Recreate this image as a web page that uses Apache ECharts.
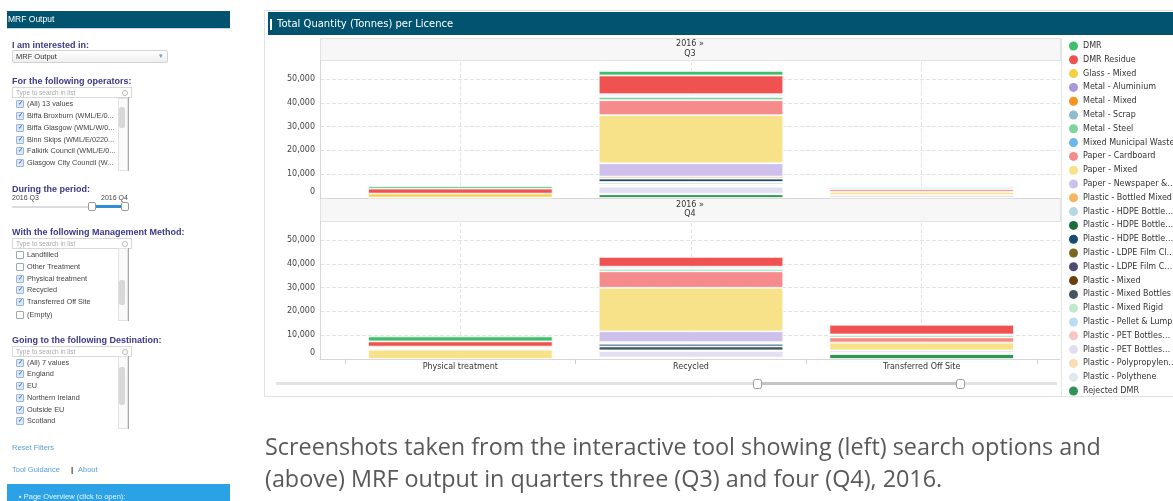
<!DOCTYPE html>
<html>
<head>
<meta charset="utf-8">
<title>MRF Output</title>
<script src="https://cdn.jsdelivr.net/npm/echarts@6/dist/echarts.min.js"></script>
<style>
  html, body { margin: 0; padding: 0; background: #fff; }
  body { width: 1173px; height: 501px; position: relative; overflow: hidden; font-family: "Liberation Sans", Arial, sans-serif; }
  #chart { position: absolute; left: 0; top: 0; width: 1173px; height: 501px; }
  .side { position: absolute; left: 0; top: 0; width: 240px; height: 501px; z-index: 2; }
  .side div, .side span { position: absolute; white-space: nowrap; }
  .hd { left: 12px; font: bold 9px/10px "Liberation Sans", Arial, sans-serif; color: #3a3a8a; }
  .search { left: 12px; width: 115px; height: 9px; border: 1px solid #d8d8d8; font: 6.5px/9px "Liberation Sans", Arial, sans-serif; color: #aaa; padding-left: 3px; }
  .search:after { content: ""; position: absolute; right: 3px; top: 2px; width: 4px; height: 4px; border: 1px solid #bbb; border-radius: 50%; }
  .item { left: 16px; height: 9px; font: 7.3px/9px "Liberation Sans", Arial, sans-serif; color: #444; }
  .item b { position: absolute; left: 0; top: 1px; width: 6px; height: 6px; border: 1px solid #9aa; background: #fff; border-radius: 1px; }
  .item b.on { border-color: #9db7d2; background: #dbe7f4; }
  .item b.on:after { content: "✓"; position: absolute; left: 0.5px; top: -2px; font-size: 6px; color: #4b7fb8; }
  .item span { left: 11px; top: 0; }
  .scroll { left: 118px; width: 8px; border: 1px solid #e2e2e2; background: #fafafa; }
  .thumb { left: 119px; width: 6px; background: #d8d8d8; border-radius: 2px; }
  .edge { left: 128px; width: 1px; background: #a9a9a9; }
  .link { left: 12px; font: 7.5px/9px "Liberation Sans", Arial, sans-serif; color: #5aa0d8; }
  .cap { position: absolute; left: 265px; font-family: "Open Sans", "Liberation Sans", sans-serif; font-size: 20px; color: #595959; white-space: nowrap; z-index: 2; }
</style>
</head>
<body>
<div id="chart"></div>

<div class="side">
  <div style="left:7px;top:11px;width:223px;height:17px;background:#02536f;"></div>
  <div style="left:7px;top:28px;width:223px;height:1px;background:#c6d8df;"></div>
  <div style="left:8px;top:11px;font:8.5px/17px 'Liberation Sans',Arial,sans-serif;color:#fff;">MRF Output</div>

  <div class="hd" style="top:40px;">I am interested in:</div>
  <div style="left:12px;top:50px;width:154px;height:11px;border:1px solid #d2d2d2;border-radius:2px;background:linear-gradient(#fff,#eee);"></div>
  <div style="left:16px;top:50px;font:7.5px/13px 'Liberation Sans',Arial,sans-serif;color:#333;">MRF Output</div>
  <div style="left:159px;top:50px;font:7px/13px 'DejaVu Sans',sans-serif;color:#6d9fc8;">▾</div>

  <div class="hd" style="top:76px;">For the following operators:</div>
  <div class="search" style="top:87px;">Type to search in list</div>
  <div class="item" style="top:99px;"><b class="on"></b><span>(All) 13 values</span></div>
  <div class="item" style="top:111px;"><b class="on"></b><span>Biffa Broxburn (WML/E/0...</span></div>
  <div class="item" style="top:123px;"><b class="on"></b><span>Biffa Glasgow (WML/W/0...</span></div>
  <div class="item" style="top:135px;"><b class="on"></b><span>Binn Skips (WML/E/0220...</span></div>
  <div class="item" style="top:146px;"><b class="on"></b><span>Falkirk Council (WML/E/0...</span></div>
  <div class="item" style="top:158px;"><b class="on"></b><span>Glasgow City Council (W...</span></div>
  <div class="scroll" style="top:98px;height:71px;"></div>
  <div class="thumb" style="top:107px;height:21px;"></div>
  <div class="edge" style="top:97px;height:74px;"></div>

  <div class="hd" style="top:184px;">During the period:</div>
  <div style="left:12px;top:193px;font:7px/9px 'Liberation Sans',Arial,sans-serif;color:#444;">2016 Q3</div>
  <div style="left:101px;top:193px;font:7px/9px 'Liberation Sans',Arial,sans-serif;color:#444;">2016 Q4</div>
  <div style="left:12px;top:206px;width:116px;height:2px;background:#dcdcdc;"></div>
  <div style="left:93px;top:205px;width:30px;height:3px;background:#2e8fd8;"></div>
  <div style="left:88px;top:202px;width:6px;height:7px;border:1px solid #9a9a9a;border-radius:2px;background:#fff;"></div>
  <div style="left:121px;top:202px;width:6px;height:7px;border:1px solid #9a9a9a;border-radius:2px;background:#fff;"></div>

  <div class="hd" style="top:227px;">With the following Management Method:</div>
  <div class="search" style="top:238px;">Type to search in list</div>
  <div class="item" style="top:250px;"><b></b><span>Landfilled</span></div>
  <div class="item" style="top:262px;"><b></b><span>Other Treatment</span></div>
  <div class="item" style="top:274px;"><b class="on"></b><span>Physical treatment</span></div>
  <div class="item" style="top:285px;"><b class="on"></b><span>Recycled</span></div>
  <div class="item" style="top:297px;"><b class="on"></b><span>Transferred Off Site</span></div>
  <div class="item" style="top:310px;"><b></b><span>(Empty)</span></div>
  <div class="scroll" style="top:248px;height:71px;"></div>
  <div class="thumb" style="top:280px;height:25px;"></div>
  <div class="edge" style="top:248px;height:73px;"></div>

  <div class="hd" style="top:335px;">Going to the following Destination:</div>
  <div class="search" style="top:346px;">Type to search in list</div>
  <div class="item" style="top:358px;"><b class="on"></b><span>(All) 7 values</span></div>
  <div class="item" style="top:369px;"><b class="on"></b><span>England</span></div>
  <div class="item" style="top:381px;"><b class="on"></b><span>EU</span></div>
  <div class="item" style="top:393px;"><b class="on"></b><span>Northern Ireland</span></div>
  <div class="item" style="top:405px;"><b class="on"></b><span>Outside EU</span></div>
  <div class="item" style="top:416px;"><b class="on"></b><span>Scotland</span></div>
  <div class="scroll" style="top:356px;height:71px;"></div>
  <div class="thumb" style="top:367px;height:38px;"></div>
  <div class="edge" style="top:356px;height:73px;"></div>

  <div class="link" style="top:443px;">Reset Filters</div>
  <div class="link" style="top:465px;">Tool Guidance</div>
  <div style="left:71px;top:465px;font:bold 8px/9px 'Liberation Sans',Arial,sans-serif;color:#333;">|</div>
  <div class="link" style="left:78px;top:465px;">About</div>

  <div style="left:7px;top:484px;width:223px;height:20px;background:#2ba2e6;"></div>
  <div style="left:19px;top:492px;font:7.5px/10px 'Liberation Sans',Arial,sans-serif;color:#e8f5ff;">▪ Page Overview (click to open):</div>
</div>

<div class="cap" id="cap1" style="top:432px;line-height:28px;">Screenshots taken from the interactive tool showing (left) search options and</div>
<div class="cap" id="cap2" style="top:464px;line-height:28px;">(above) MRF output in quarters three (Q3) and four (Q4), 2016.</div>

<script>
// 材料类别（图例顺序，从上到下）
const materials = [
  'DMR', 'DMR Residue', 'Glass - Mixed', 'Metal - Aluminium', 'Metal - Mixed',
  'Metal - Scrap', 'Metal - Steel', 'Mixed Municipal Waste', 'Paper - Cardboard',
  'Paper - Mixed', 'Paper - Newspaper & Magazines', 'Plastic - Bottled Mixed',
  'Plastic - HDPE Bottles Clear', 'Plastic - HDPE Bottles Coloured', 'Plastic - HDPE Bottles Mixed',
  'Plastic - LDPE Film Clear', 'Plastic - LDPE Film Coloured', 'Plastic - Mixed',
  'Plastic - Mixed Bottles', 'Plastic - Mixed Rigid', 'Plastic - Pellet & Lump',
  'Plastic - PET Bottles Clear', 'Plastic - PET Bottles Coloured', 'Plastic - Polypropylene',
  'Plastic - Polythene', 'Rejected DMR'
]

// 图例中显示的（截断）文字
const legendLabels = [
  'DMR', 'DMR Residue', 'Glass - Mixed', 'Metal - Aluminium', 'Metal - Mixed',
  'Metal - Scrap', 'Metal - Steel', 'Mixed Municipal Waste', 'Paper - Cardboard',
  'Paper - Mixed', 'Paper - Newspaper &…', 'Plastic - Bottled Mixed',
  'Plastic - HDPE Bottle…', 'Plastic - HDPE Bottle…', 'Plastic - HDPE Bottle…',
  'Plastic - LDPE Film Cl…', 'Plastic - LDPE Film C…', 'Plastic - Mixed',
  'Plastic - Mixed Bottles', 'Plastic - Mixed Rigid', 'Plastic - Pellet & Lump',
  'Plastic - PET Bottles…', 'Plastic - PET Bottles…', 'Plastic - Polypropylen…',
  'Plastic - Polythene', 'Rejected DMR'
]

const methods = ['Physical treatment', 'Recycled', 'Transferred Off Site']
const periods = ['2016 »\nQ3', '2016 »\nQ4']

// 吨数，每个数组按 materials 顺序
//                 DMR  Res   Gls  Alu Mix Scr  Stl MMW Card  PMix  News Btl H1 H2 H3  LCl LC PMx MBt Rig Pel PET1 PET2 PP  PTh Rej
const q3Physical = [1000, 2100, 1650, 0, 0, 0, 200, 0, 0, 0, 0, 0, 0, 0, 0, 0, 0, 0, 0, 0, 0, 0, 0, 0, 0, 0]
const q3Recycled = [1900, 7900, 0, 700, 0, 400, 1400, 0, 6300, 20200, 5600, 850, 0, 0, 1400, 0, 300, 0, 600, 300, 500, 300, 2950, 0, 250, 1550]
const q3Transferred = [0, 0, 0, 500, 0, 0, 700, 0, 1100, 1400, 900, 0, 0, 0, 0, 0, 0, 0, 0, 0, 0, 0, 300, 0, 0, 0]
const q4Physical = [2100, 2200, 500, 0, 0, 0, 300, 0, 500, 3900, 0, 0, 0, 0, 0, 0, 0, 0, 0, 0, 0, 0, 0, 0, 0, 0]
const q4Recycled = [0, 4100, 0, 600, 0, 350, 1000, 0, 6900, 18300, 4600, 650, 0, 0, 1100, 0, 0, 0, 1700, 0, 200, 0, 2800, 600, 0, 0]
const q4Transferred = [0, 4100, 0, 0, 0, 200, 1000, 0, 2200, 3300, 800, 0, 0, 0, 0, 0, 0, 0, 0, 0, 0, 0, 700, 0, 0, 2100]

const colors = [
  '#3fbf6b', '#f05252', '#f5d142', '#a996d8', '#f7931e',
  '#8fbccf', '#80d39b', '#6bb8ee', '#f58b8a', '#f7e289',
  '#cdc0ea', '#f7b462', '#b5d8e4', '#1f6b3c', '#144d6f',
  '#7a6826', '#4e4b6f', '#6b3f0e', '#44575f', '#bfe8cc',
  '#badcf6', '#f8c5c6', '#e4def3', '#fcdcb2', '#dde9ef', '#2e9553'
]

const FONT = 'DejaVu Sans'
const chart = echarts.init(document.getElementById('chart'))

// 每个季度一组：背景网格(坐标轴/网格线) + 柱状网格
const panels = [
  { top: 60, cols: [q3Physical, q3Recycled, q3Transferred] },
  { top: 221, cols: [q4Physical, q4Recycled, q4Transferred] }
]
const PANEL_H = 138

const grid = []
const xAxis = []
const yAxis = []
const series = []

panels.forEach((p, k) => {
  grid.push({ left: 320, width: 740, top: p.top, height: PANEL_H })
  grid.push({ left: 345, width: 692, top: p.top, height: PANEL_H })

  xAxis.push({
    gridIndex: k * 2, type: 'value', min: 0, max: 1,
    axisLine: { show: true, lineStyle: { color: '#d6d6d6' } },
    axisTick: { show: false }, axisLabel: { show: false }, splitLine: { show: false }
  })
  xAxis.push({
    gridIndex: k * 2 + 1, type: 'category', data: methods,
    axisLine: { show: false },
    axisTick: { show: k === 1, length: 5, lineStyle: { color: '#cfcfcf' } },
    axisLabel: { show: k === 1, fontFamily: FONT, fontSize: 8, color: '#333', margin: 4 },
    splitLine: { show: false }
  })

  yAxis.push({
    gridIndex: k * 2, type: 'value', min: 0, max: 58000, interval: 10000,
    axisLine: { show: true, lineStyle: { color: '#d6d6d6' } },
    axisTick: { show: false },
    splitLine: { showMaxLine: false, lineStyle: { color: '#e2e2e2', type: 'dashed' } },
    axisLabel: {
      fontFamily: FONT, fontSize: 8, color: '#444', margin: 5, showMaxLabel: false,
      formatter: v => {
        if (v % 10000 !== 0) return ''
        return v === 0 ? '{z|0}' : v.toLocaleString('en-US')
      },
      rich: { z: { fontFamily: FONT, fontSize: 8, color: '#444', padding: [0, 0, 12, 0] } }
    }
  })
  yAxis.push({ gridIndex: k * 2 + 1, type: 'value', min: 0, max: 58000, show: false })

  // 堆叠顺序：图例最后一项在最底部
  for (let i = materials.length - 1; i >= 0; i--) {
    const s = {
      name: materials[i],
      type: 'bar',
      stack: 'q' + k,
      xAxisIndex: k * 2 + 1,
      yAxisIndex: k * 2 + 1,
      barWidth: '80%',
      itemStyle: { color: colors[i], borderColor: '#fff', borderWidth: 0.8 },
      emphasis: { disabled: true },
      data: p.cols.map(c => (c[i] ? c[i] : '-'))
    }
    if (i === materials.length - 1) {
      s.markLine = {
        silent: true, symbol: 'none', z: 1,
        label: { show: false },
        lineStyle: { color: '#e4e4e4', type: 'dashed', width: 1 },
        data: methods.map(m => ({ xAxis: m }))
      }
    }
    series.push(s)
  }
})

function headerBand(y, h, text) {
  return [
    { type: 'rect', shape: { x: 320.5, y: y + 0.5, width: 740, height: h }, style: { fill: '#f7f7f7', stroke: '#e2e2e2', lineWidth: 1 } },
    {
      type: 'text', x: 690, y: y + h / 2,
      style: { text: text, fill: '#333', font: '8px "DejaVu Sans"', lineHeight: 9.5, align: 'center', textAlign: 'center', verticalAlign: 'middle', textVerticalAlign: 'middle' }
    }
  ]
}

const graphic = [
  // 面板边框与标题栏
  { type: 'rect', shape: { x: 264.5, y: 10.5, width: 910, height: 386 }, style: { fill: 'none', stroke: '#dce3e7', lineWidth: 1 } },
  { type: 'rect', shape: { x: 268, y: 12, width: 905, height: 23 }, style: { fill: '#02536f' } },
  { type: 'rect', shape: { x: 270, y: 19, width: 2, height: 11 }, style: { fill: '#fff' } },
  {
    type: 'text', x: 277, y: 24.5,
    style: { text: 'Total Quantity (Tonnes) per Licence', fill: '#fff', font: '10px "DejaVu Sans"', verticalAlign: 'middle', textVerticalAlign: 'middle' }
  },
  ...headerBand(38, 22, periods[0]),
  ...headerBand(198, 23, periods[1]),
  // 图例左边线
  { type: 'line', shape: { x1: 1061.5, y1: 38, x2: 1061.5, y2: 396 }, style: { stroke: '#e6e6e6', lineWidth: 1 } },
  // 底部范围滑块
  { type: 'line', shape: { x1: 276, y1: 383.5, x2: 1057, y2: 383.5 }, style: { stroke: '#e3e3e3', lineWidth: 3 } },
  { type: 'line', shape: { x1: 757, y1: 383.5, x2: 960, y2: 383.5 }, style: { stroke: '#c4c4c4', lineWidth: 3 } },
  { type: 'rect', shape: { x: 753.5, y: 379.5, width: 8, height: 9, r: 2 }, style: { fill: '#fff', stroke: '#9a9a9a', lineWidth: 1 } },
  { type: 'rect', shape: { x: 956.5, y: 379.5, width: 8, height: 9, r: 2 }, style: { fill: '#fff', stroke: '#9a9a9a', lineWidth: 1 } }
]

const option = {
  animation: false,
  backgroundColor: '#fff',
  grid,
  xAxis,
  yAxis,
  legend: {
    orient: 'vertical', left: 1069, top: 41.5, padding: 0,
    itemWidth: 9, itemHeight: 9, itemGap: 4.8, icon: 'circle',
    selectedMode: false,
    data: materials,
    formatter: name => legendLabels[materials.indexOf(name)],
    itemStyle: { borderWidth: 0 },
    textStyle: { fontFamily: FONT, fontSize: 8, color: '#333' }
  },
  graphic,
  series
}

chart.setOption(option)

// 说明文字按原图宽度调整字号
const cap1 = document.getElementById('cap1')
const cap2 = document.getElementById('cap2')
const fs = 20 * 836 / cap1.getBoundingClientRect().width
cap1.style.fontSize = fs + 'px'
cap2.style.fontSize = fs + 'px'
</script>
</body>
</html>
